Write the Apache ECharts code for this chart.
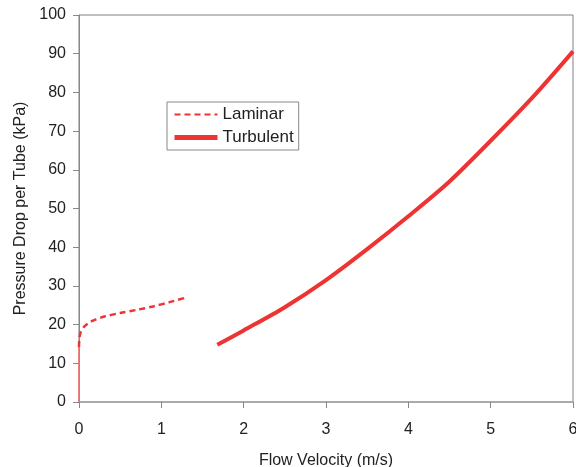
<!DOCTYPE html>
<html lang="en">
	<head>
		<meta charset="UTF-8">
		<title>Pressure Drop per Tube</title>
		<script src="https://cdn.jsdelivr.net/npm/echarts@6/dist/echarts.min.js"></script>
		<style>
			html, body { margin: 0; padding: 0; background: #fff; }
		</style>
	</head>
	<body>
		<div id="main" style="width: 576px;height: 467px;"></div>
		<script>
			// values: [velocity m/s, pressure drop kPa]
			var laminarRise = [[0, 0], [0, 14.2]];
			var laminar = [[0, 14.2], [0.005, 16.5], [0.02, 18], [0.06, 19.4], [0.13, 20.6], [0.2, 21.3],
				[0.31, 22.1], [0.5, 23], [0.7, 23.8], [0.9, 24.7], [1.1, 25.8], [1.32, 27.1]];
			var turbulent = [[1.68, 14.8], [2.0, 18.5], [2.5, 24.5], [3.0, 31.5], [3.5, 39.5], [4.0, 48],
				[4.5, 57], [5.0, 67.5], [5.5, 78.5], [6.0, 90.6]];
			var legendNames = ['Laminar', 'Turbulent'];

			var red = '#ee3333';
			var font = '"Liberation Sans", Arial, sans-serif';
			var myChart = echarts.init(document.getElementById('main'));

			var option = {
				animation: false,
				textStyle: { fontFamily: font },
				grid: {
					left: 79,
					top: 15,
					right: 3,
					bottom: 65,
					outerBoundsMode: 'none',
					containLabel: false,
					show: true,
					borderColor: '#808080',
					borderWidth: 1
				},
				legend: {
					data: [
						{ name: legendNames[0], lineStyle: { width: 2, type: [6, 4] } },
						{ name: legendNames[1], lineStyle: { width: 5 } }
					],
					orient: 'vertical',
					left: 167,
					top: 102,
					padding: [4, 5, 4, 5],
					itemGap: 6,
					itemWidth: 43,
					itemHeight: 14,
					borderColor: '#888',
					borderWidth: 1,
					itemStyle: { opacity: 0 },
					textStyle: { fontSize: 17, color: '#222', fontFamily: font }
				},
				xAxis: {
					type: 'value',
					min: 0,
					max: 6,
					interval: 1,
					name: 'Flow Velocity (m/s)',
					nameLocation: 'middle',
					nameGap: 51,
					nameTextStyle: { fontSize: 16, color: '#222' },
					axisLine: { lineStyle: { color: '#aaa', width: 2 } },
					axisTick: { length: 6, lineStyle: { color: '#888' } },
					axisLabel: { fontSize: 16, color: '#222', margin: 20 },
					splitLine: { show: false }
				},
				yAxis: {
					type: 'value',
					min: 0,
					max: 100,
					interval: 10,
					name: 'Pressure Drop per Tube (kPa)',
					nameLocation: 'middle',
					nameGap: 50,
					nameTextStyle: { fontSize: 16, color: '#222' },
					axisLine: { show: true, lineStyle: { color: '#888', width: 1 } },
					axisTick: { show: true, length: 6, lineStyle: { color: '#888' } },
					axisLabel: { fontSize: 16, color: '#222', margin: 13 },
					splitLine: { show: false }
				},
				series: [{
						name: '',
						type: 'line',
						symbol: 'none',
						lineStyle: { color: '#ff6b6b', width: 1.5 },
						data: laminarRise
					},
					{
						name: 'Laminar',
						type: 'line',
						symbol: 'none',
						smooth: 0.3,
						itemStyle: { color: red },
						lineStyle: { color: red, width: 2.5, type: [6, 4] },
						data: laminar
					},
					{
						name: 'Turbulent',
						type: 'line',
						symbol: 'none',
						smooth: 0.3,
						itemStyle: { color: red },
						lineStyle: { color: red, width: 4 },
						data: turbulent
					}
				]
			};
			myChart.setOption(option);
		</script>
	</body>
</html>
